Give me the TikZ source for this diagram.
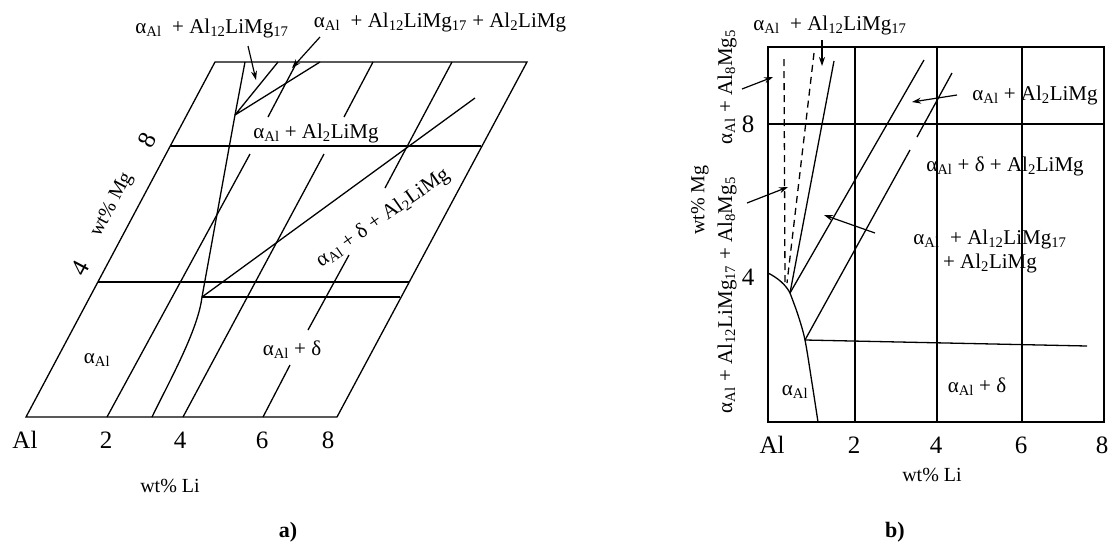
\documentclass[tikz,border=0pt]{standalone}
\usepackage{fontspec}
\setmainfont{Liberation Serif}
\usepackage{tikz}
\usetikzlibrary{arrows.meta, calc}
\newcommand{\aAl}{α\textsubscript{Al}}

\tikzset{
  phase/.style={font=\fontsize{21}{24}\selectfont, inner sep=0pt},
  tick/.style={font=\fontsize{25}{28}\selectfont, inner sep=1pt},
  axis/.style={font=\fontsize{20}{24}\selectfont, inner sep=0pt},
  bound/.style={line width=1.3pt},
  dashbound/.style={line width=1.3pt, dash pattern=on 7pt off 5pt},
  pointer/.style={-{Stealth[length=9pt,width=6pt]}, line width=1.2pt},
}

\begin{document}
\begin{tikzpicture}[x=1pt, y=-1pt]
  \useasboundingbox (0,0) rectangle (1112,550);

  % a) slanted section
  \coordinate (BL) at (26,417);
  \coordinate (BR) at (337,417);
  \coordinate (TR) at (527,62);
  \coordinate (TL) at (215,62);
  \coordinate (J) at (235,115);
  \coordinate (K) at (202,297);

  \draw[bound] (BL) -- (BR) -- (TR) -- (TL) -- cycle;
  \draw[bound] (170,146) -- (481,146);
  \draw[bound] (98,282) -- (409,282);
  \draw[bound] (K) -- (400,297);
  \draw[bound] (K) -- (475,98);
  \draw[bound] (245,62) -- (J) -- (K)
    .. controls (198,330) and (170,380) .. (152,417);
  \draw[bound] (J) -- (278,62) (J) -- (320,62);
  \draw[bound] (297,62) -- (268,117) (250,154) -- (107,417);
  \draw[bound] (373,62) -- (344,117) (324,154) -- (183,417);
  \draw[bound] (452,62) -- (385,188) (349,255) -- (308,330) (290,365) -- (263,417);

  \node[phase] (a1) at (212,28) {\aAl\ \ + Al\textsubscript{12}LiMg\textsubscript{17}};
  \node[phase] (a2) at (440,22) {\aAl\ \ + Al\textsubscript{12}LiMg\textsubscript{17} + Al\textsubscript{2}LiMg};
  \draw[pointer] (248,46) -- (256,80);
  \draw[pointer] (320,37) -- (292,68);

  \node[phase] (a3) at (316,133) {\aAl\ + Al\textsubscript{2}LiMg};
  \node[phase, rotate=35] (a4) at (383,218) {\aAl\ + δ + Al\textsubscript{2}LiMg};
  \node[phase] (a5) at (292,350) {\aAl\ + δ};
  \node[phase] (a6) at (97,360) {\aAl};

  \foreach \x/\t in {25/Al, 106/2, 180/4, 262/6, 328/8}
    \node[tick] at (\x,440) {\t};
  \node[axis] (aLi) at (170,486) {wt\% Li};
  \node[axis, rotate=62] (aMg) at (112,205) {wt\% Mg};
  \node[tick, rotate=62] at (147,140) {8};
  \node[tick, rotate=62] at (80,268) {4};
  \node[axis, font=\fontsize{22}{26}\selectfont\bfseries] at (288,532) {a)};

  % b) projection
  \coordinate (J1) at (790,293);
  \coordinate (J2) at (805,340);

  \draw[bound] (768,47) rectangle (1104,422);
  \foreach \x in {855, 937, 1022}
    \draw[bound] (\x,47) -- (\x,422);
  \draw[bound] (768,124) -- (1104,124);
  \draw[dashbound] (784,59) -- (785,283);
  \draw[dashbound] (814,53) -- (787,283);
  \draw[bound] (834,61) -- (J1);
  \draw[bound] (924,60) -- (J1);
  \draw[bound] (952,73) -- (917,137) (910,150) -- (J2);
  \draw[bound] (768,273) .. controls (778,278) and (786,285) .. (J1);
  \draw[bound] plot[smooth] coordinates {(J1) (798,315) (J2) (812,383) (818,422)};
  \draw[bound] (J2) -- (1087,346);

  \node[phase] (b1) at (830,25) {\aAl\ \ + Al\textsubscript{12}LiMg\textsubscript{17}};
  \node[phase] (b2) at (1035,95) {\aAl\ + Al\textsubscript{2}LiMg};
  \node[phase] (b3) at (1005,166) {\aAl\ + δ + Al\textsubscript{2}LiMg};
  \node[phase, align=center] (b4) at (990,251) {\aAl\ \ + Al\textsubscript{12}LiMg\textsubscript{17}\\+ Al\textsubscript{2}LiMg};
  \node[phase] (b5) at (795,392) {\aAl};
  \node[phase] (b6) at (977,387) {\aAl\ + δ};
  \node[phase, rotate=90] (b7) at (727,87) {\aAl\ + Al\textsubscript{8}Mg\textsubscript{5}};
  \node[phase, rotate=90] (b8) at (727,295) {\aAl\ + Al\textsubscript{12}LiMg\textsubscript{17} + Al\textsubscript{8}Mg\textsubscript{5}};
  \draw[pointer] (742,89) -- (773,77);
  \draw[pointer] (822,40) -- (822,66);
  \draw[pointer] (957,95) -- (912,102);
  \draw[pointer] (747,203) -- (788,187);
  \draw[pointer] (875,233) -- (824,215);

  \foreach \x/\t in {772/Al, 854/2, 936/4, 1021/6, 1102/8}
    \node[tick] at (\x,445) {\t};
  \node[tick] at (748,124) {8};
  \node[tick] at (748,277) {4};
  \node[axis] (bLi) at (932,475) {wt\% Li};
  \node[axis, rotate=90] (bMg) at (700,200) {wt\% Mg};
  \node[axis, font=\fontsize{22}{26}\selectfont\bfseries] at (895,532) {b)};
\end{tikzpicture}
\end{document}
